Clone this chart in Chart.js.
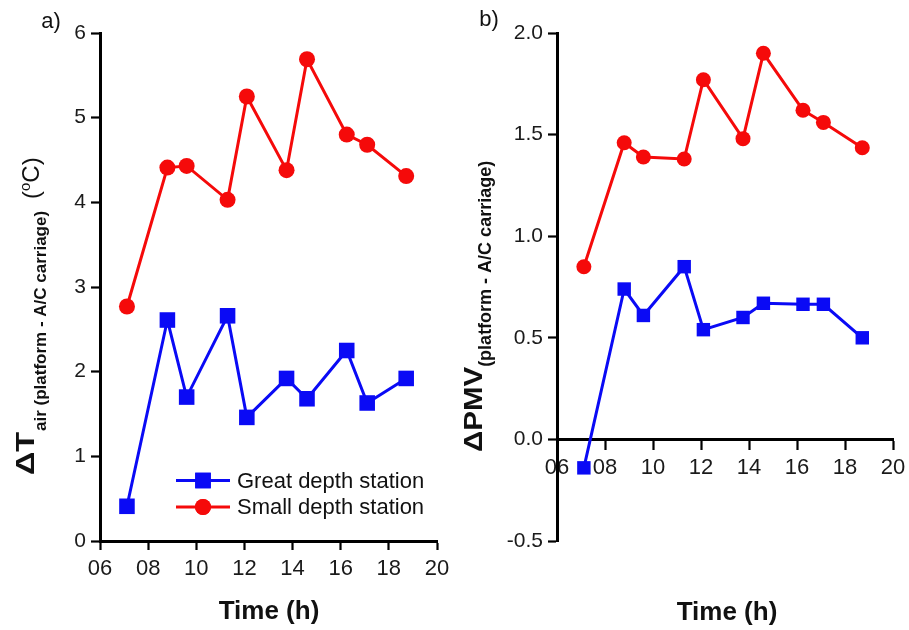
<!DOCTYPE html>
<html>
<head>
<meta charset="utf-8">
<script src="https://cdn.jsdelivr.net/npm/chart.js@4.4.1/dist/chart.umd.min.js"></script>
<style>
  html, body { margin: 0; padding: 0; background: #fff; }
  #wrap { position: relative; width: 909px; height: 630px; overflow: hidden; background: #fff; }
  canvas { position: absolute; top: 0; }
  #chartT { left: 0; }
  #chartP { left: 450px; }
</style>
</head>
<body>
<div id="wrap">
  <canvas id="chartT" width="450" height="630"></canvas>
  <canvas id="chartP" width="459" height="630"></canvas>
</div>
<script>
// Measurement times (hour of day)
const hours = [7.12, 8.8, 9.6, 11.3, 12.1, 13.75, 14.6, 16.25, 17.1, 18.72];

// a) air temperature difference, platform minus A/C carriage (°C)
const tempGreatDepth = [0.41, 2.61, 1.70, 2.66, 1.46, 1.92, 1.68, 2.25, 1.63, 1.92];
const tempSmallDepth = [2.77, 4.41, 4.43, 4.03, 5.25, 4.38, 5.69, 4.80, 4.68, 4.31];

// b) PMV difference, platform minus A/C carriage
const pmvGreatDepth = [-0.14, 0.74, 0.61, 0.85, 0.54, 0.60, 0.67, 0.665, 0.665, 0.50];
const pmvSmallDepth = [0.85, 1.46, 1.39, 1.38, 1.77, 1.48, 1.90, 1.62, 1.56, 1.435];

// Axis ticks
const timeTicks = [6, 8, 10, 12, 14, 16, 18, 20];
const timeTickLabels = ['06', '08', '10', '12', '14', '16', '18', '20'];
const tempTicks = [0, 1, 2, 3, 4, 5, 6];
const tempTickLabels = ['0', '1', '2', '3', '4', '5', '6'];
const pmvTicks = [-0.5, 0, 0.5, 1.0, 1.5, 2.0];
const pmvTickLabels = ['-0.5', '0.0', '0.5', '1.0', '1.5', '2.0'];

const seriesNames = ['Great depth station', 'Small depth station'];

const FONT = "'Liberation Sans', Arial, Helvetica, sans-serif";
const BLUE = '#0a0af5';
const RED = '#f50a0a';
const INK = '#111111';

function toPoints(xs, ys) {
  return xs.map((x, i) => ({ x: x, y: ys[i] }));
}

function makeDatasets(great, small, sq, rc) {
  return [
    {
      label: seriesNames[0],
      data: toPoints(hours, great),
      borderColor: BLUE, backgroundColor: BLUE,
      pointBackgroundColor: BLUE, pointBorderColor: BLUE,
      borderWidth: 3, pointStyle: 'rect', pointRadius: sq, pointBorderWidth: 0,
      pointHoverRadius: sq, tension: 0, clip: false
    },
    {
      label: seriesNames[1],
      data: toPoints(hours, small),
      borderColor: RED, backgroundColor: RED,
      pointBackgroundColor: RED, pointBorderColor: RED,
      borderWidth: 3, pointStyle: 'circle', pointRadius: rc, pointBorderWidth: 0,
      pointHoverRadius: rc, tension: 0, clip: false
    }
  ];
}

// Draw a run of text segments rotated to read bottom-to-top.
// Each segment: text, font, baseline x, and an optional stretch along the text.
function drawVerticalRun(ctx, startY, segs) {
  let y = startY;
  segs.forEach(s => {
    ctx.save();
    ctx.font = s.font;
    ctx.fillStyle = INK;
    ctx.textAlign = 'left';
    ctx.textBaseline = 'alphabetic';
    const sx = s.stretch || 1;
    const w = ctx.measureText(s.text).width * sx;
    if (s.at !== undefined) y = s.at;
    ctx.translate(s.base, y);
    ctx.rotate(-Math.PI / 2);
    ctx.scale(sx, 1);
    ctx.fillText(s.text, 0, 0);
    ctx.restore();
    y -= w + (s.gap || 0);
  });
}

function drawCentered(ctx, text, font, x, y) {
  ctx.save();
  ctx.font = font;
  ctx.fillStyle = INK;
  ctx.textAlign = 'center';
  ctx.textBaseline = 'middle';
  ctx.fillText(text, x, y);
  ctx.restore();
}

function tickedScale(values, labels, min, max, fontSize, pad, extra) {
  return Object.assign({
    type: 'linear',
    min: min, max: max,
    afterBuildTicks: s => { s.ticks = values.map(v => ({ value: v })); },
    ticks: {
      autoSkip: false, maxRotation: 0, minRotation: 0,
      padding: pad,
      color: '#1a1a1a',
      font: { family: FONT, size: fontSize },
      callback: (v, i) => labels[i]
    },
    grid: {
      display: true, drawOnChartArea: false, drawTicks: true,
      tickLength: 9, tickWidth: 2.2, tickColor: '#000'
    },
    border: { display: true, color: '#000', width: 3 }
  }, extra || {});
}

// Fixed axis box sizes so the plot area sits where the layout padding says
function fixX(height) {
  return s => { s.height = height; s.paddingLeft = 0; s.paddingRight = 0; };
}
function fixY(width) {
  return s => { s.width = width; s.paddingTop = 0; s.paddingBottom = 0; };
}

// ---- Panel a: air temperature difference ----
const labelsPanelT = {
  id: 'labelsPanelT',
  afterDraw(chart) {
    const ctx = chart.ctx;
    drawCentered(ctx, 'a)', `22px ${FONT}`, 51, 22);
    drawCentered(ctx, 'Time (h)', `bold 26px ${FONT}`, 269, 612);
    drawVerticalRun(ctx, 475, [
      { text: 'ΔT', font: `bold 26px ${FONT}`, base: 33.5, stretch: 1.25 },
      { text: 'air (platform - A/C carriage)', font: `bold 17px ${FONT}`, base: 45.5, at: 431 },
      { text: '(', font: `24px ${FONT}`, base: 38.5, at: 199 },
      { text: 'o', font: `15px ${FONT}`, base: 30 },
      { text: 'C)', font: `24px ${FONT}`, base: 38.5 }
    ]);
    // legend
    const rows = [480.5, 507];
    chart.data.datasets.forEach((ds, i) => {
      const y = rows[i];
      ctx.save();
      ctx.strokeStyle = ds.borderColor;
      ctx.lineWidth = 3;
      ctx.beginPath();
      ctx.moveTo(176, y);
      ctx.lineTo(230, y);
      ctx.stroke();
      ctx.fillStyle = ds.pointBackgroundColor;
      Chart.helpers.drawPoint(ctx, {
        pointStyle: ds.pointStyle, radius: ds.pointRadius, rotation: 0, borderWidth: 0
      }, 203, y);
      ctx.fill();
      ctx.font = `22px ${FONT}`;
      ctx.fillStyle = INK;
      ctx.textAlign = 'left';
      ctx.textBaseline = 'middle';
      ctx.fillText(ds.label, 237, y + 1);
      ctx.restore();
    });
  }
};

new Chart(document.getElementById('chartT'), {
  type: 'line',
  data: { datasets: makeDatasets(tempGreatDepth, tempSmallDepth, 11, 8) },
  options: {
    responsive: false, animation: false, devicePixelRatio: 1,
    layout: { padding: { top: 33, right: 13, bottom: 0, left: 0 } },
    plugins: { legend: { display: false }, tooltip: { enabled: false }, title: { display: false } },
    scales: {
      x: tickedScale(timeTicks, timeTickLabels, 6, 20, 22, 6, {
        position: 'bottom',
        afterFit: fixX(89)
      }),
      y: tickedScale(tempTicks, tempTickLabels, 0, 6, 21, 5, {
        position: 'left',
        afterFit: fixY(100)
      })
    }
  },
  plugins: [labelsPanelT]
});

// ---- Panel b: PMV difference ----
const labelsPanelP = {
  id: 'labelsPanelP',
  afterDraw(chart) {
    const ctx = chart.ctx;
    drawCentered(ctx, 'b)', `22px ${FONT}`, 39, 20);
    drawCentered(ctx, 'Time (h)', `bold 26px ${FONT}`, 277, 613);
    drawVerticalRun(ctx, 452, [
      { text: 'ΔPMV', font: `bold 25px ${FONT}`, base: 32, stretch: 1.18 },
      { text: '(platform - A/C carriage)', font: `bold 18px ${FONT}`, base: 40.5, gap: 0 }
    ]);
  }
};

new Chart(document.getElementById('chartP'), {
  type: 'line',
  data: { datasets: makeDatasets(pmvGreatDepth, pmvSmallDepth, 9.5, 7.5) },
  options: {
    responsive: false, animation: false, devicePixelRatio: 1,
    layout: { padding: { top: 33, right: 16, bottom: 89, left: 0 } },
    plugins: { legend: { display: false }, tooltip: { enabled: false }, title: { display: false } },
    scales: {
      x: tickedScale(timeTicks, timeTickLabels, 6, 20, 22, 6, {
        position: { y: 0 },
        afterFit: fixX(0)
      }),
      y: tickedScale(pmvTicks, pmvTickLabels, -0.5, 2.0, 21, 5, {
        position: 'left',
        afterFit: fixY(107)
      })
    }
  },
  plugins: [labelsPanelP]
});
</script>
</body>
</html>
